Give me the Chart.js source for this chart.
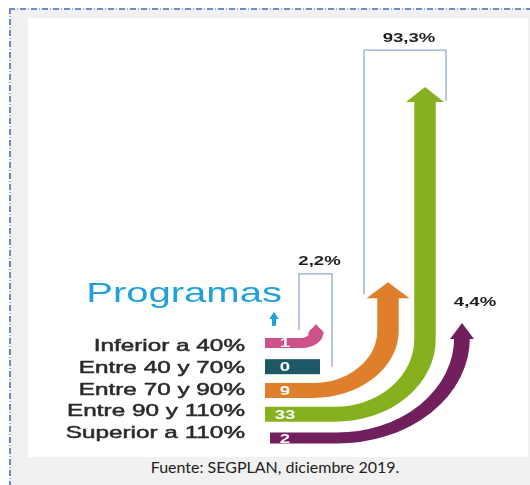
<!DOCTYPE html>
<html lang="es">
<head>
<meta charset="utf-8">
<script src="https://cdn.jsdelivr.net/npm/chart.js@4.4.1/dist/chart.umd.min.js"></script>
<style>
  html, body { margin: 0; padding: 0; background: #fff; }
  body { width: 530px; height: 485px; position: relative; overflow: hidden; }
  .frame {
    position: absolute; left: 9px; top: 8px; width: 530px; height: 485px;
    background: #f1f1f1;
  }
  .frame::before, .frame::after { content: ''; position: absolute; left: 0; top: 0; }
  .frame::before {
    width: 100%; height: 2px;
    background: repeating-linear-gradient(90deg, #6d8cc0 0 6px, transparent 6px 8px, #9fb3d6 8px 9px, transparent 9px 11px);
  }
  .frame::after {
    width: 2px; height: 100%;
    background: repeating-linear-gradient(180deg, #6d8cc0 0 6px, transparent 6px 8px, #9fb3d6 8px 9px, transparent 9px 11px);
  }
  .panel { position: absolute; left: 28px; top: 18px; width: 500px; height: 439px; background: #fff; }
  .caption {
    position: absolute; left: 0; top: 457px; width: 550px; text-align: center;
    font: 16px Lato, "Open Sans", sans-serif; color: #222;
  }
</style>
</head>
<body>
<div class="frame"></div>
<div class="panel"><canvas id="programasChart" width="500" height="439"></canvas></div>
<div class="caption">Fuente: SEGPLAN, diciembre 2019.</div>

<script>
const categories = ['Inferior a 40%', 'Entre 40 y 70%', 'Entre 70 y 90%', 'Entre 90 y 110%', 'Superior a 110%'];
const programCounts = [1, 0, 9, 33, 2];
const shareLabels = ['2,2%', '93,3%', '4,4%'];
const shareGroups = [[0, 1], [2, 3], [4]];
const titleText = 'Programas';

// the original graphic is stretched sideways
const S = 1.43;
const barStart = 237;
const labelSpread = 0.915;
const arrowColors = ['#cd528a', '#1e5866', '#e07f2b', '#86b11f', '#721f5d'];
const arrowShape = [
    { shaft: 288, rx: 14, ry: 10, width: 10, headW: 17, headL: 9 },
    { end: 292, width: 15 },
    { shaft: 360, rx: 75, ry: 60, width: 15, headW: 43, headL: 15 },
    { shaft: 397, rx: 90, ry: 75, width: 15, headW: 38, headL: 14 },
    { shaft: 434, rx: 125, ry: 100, width: 11, headW: 24, headL: 15, start: 242 }
];
const bracketShape = [
    { left: 271, right: 304, rise: 50, textDx: 4 },
    { left: 336, right: 418, rise: 37, textDx: 4 }
];

const arrowPlugin = {
    id: 'arrows',
    afterDraw(chart) {
        const { ctx, scales } = chart;
        const xs = scales.x, ys = scales.y, rs = scales.rows;
        const px = (v) => xs.getPixelForValue(v);
        const X = (v) => px(v) / S;
        const tips = [];
        const midRow = rs.getPixelForValue((categories.length - 1) / 2);

        ctx.save();
        ctx.scale(S, 1);
        ctx.textBaseline = 'middle';

        // title + small arrow
        const row0 = rs.getPixelForValue(0);
        ctx.fillStyle = '#22a0dc';
        ctx.font = '28px "Liberation Sans", Arial, sans-serif';
        ctx.textAlign = 'right';
        ctx.textBaseline = 'alphabetic';
        ctx.fillText(titleText, X(barStart + 17), row0 - 41);
        const ax = X(barStart + 9);
        ctx.beginPath();
        ctx.moveTo(ax - 4 / S * 1.2, row0 - 24);
        ctx.lineTo(ax, row0 - 31);
        ctx.lineTo(ax + 4 / S * 1.2, row0 - 24);
        ctx.closePath();
        ctx.fill();
        ctx.fillRect(ax - 1.4, row0 - 25, 2.8, 8);
        ctx.textBaseline = 'middle';

        categories.forEach((cat, i) => {
            const rowY = rs.getPixelForValue(i);
            const sh = arrowShape[i];
            const x0 = X(sh.start ?? barStart);
            ctx.fillStyle = ctx.strokeStyle = arrowColors[i];

            if (!sh.shaft) {
                ctx.fillRect(x0, rowY - sh.width / 2, X(sh.end) - x0, sh.width);
                tips.push(null);
            } else {
                const tipY = Math.min(ys.getPixelForValue(programCounts[i]), rowY - sh.ry - sh.headL);
                const baseY = tipY + sh.headL;
                const sx = X(sh.shaft);
                const rx = sh.rx / S;
                ctx.lineWidth = sh.width;
                ctx.lineCap = 'butt';
                ctx.lineJoin = 'round';
                ctx.beginPath();
                ctx.moveTo(x0, rowY);
                ctx.lineTo(sx - rx, rowY);
                ctx.ellipse(sx - rx, rowY - sh.ry, rx, sh.ry, 0, Math.PI / 2, 0, true);
                ctx.lineTo(sx, baseY + 0.5);
                ctx.stroke();

                const hw = sh.headW / 2 / S;
                ctx.beginPath();
                ctx.moveTo(sx - hw, baseY + 1);
                ctx.lineTo(sx, tipY);
                ctx.lineTo(sx + hw, baseY + 1);
                ctx.closePath();
                ctx.fill();
                tips.push({ x: px(sh.shaft), tipY, baseY, hw: sh.headW / 2 });
            }

            // count inside the bar
            ctx.fillStyle = '#ffffff';
            ctx.font = 'bold 13px "Liberation Sans", Arial, sans-serif';
            ctx.textAlign = 'center';
            ctx.fillText(String(programCounts[i]), X(barStart + 20), rowY + 1);

            // category label
            const labelY = midRow + (rowY - midRow) * labelSpread - 0.5;
            ctx.fillStyle = ctx.strokeStyle = '#2a2a2a';
            ctx.lineWidth = 0.5;
            ctx.font = '17px "Liberation Sans", Arial, sans-serif';
            ctx.textAlign = 'right';
            ctx.fillText(cat, X(barStart - 20), labelY);
            ctx.strokeText(cat, X(barStart - 20), labelY);
        });

        // shares
        ctx.fillStyle = '#1e1e1e';
        ctx.font = 'bold 13px "Liberation Sans", Arial, sans-serif';
        ctx.textAlign = 'center';
        shareGroups.forEach((grp, g) => {
            const b = bracketShape[g];
            const heads = grp.map(i => tips[i]).filter(Boolean);
            const topTip = Math.min(...heads.map(t => t.tipY));
            if (b) {
                const top = topTip - b.rise;
                ctx.fillText(shareLabels[g], X((b.left + b.right) / 2 + b.textDx), top - 12);
            } else {
                const t = heads[0];
                ctx.fillText(shareLabels[g], (t.x + 13) / S, t.tipY - 21);
            }
        });
        ctx.restore();

        // brackets
        ctx.save();
        ctx.strokeStyle = '#93a9d8';
        ctx.lineWidth = 1.3;
        shareGroups.forEach((grp, g) => {
            const b = bracketShape[g];
            if (!b) return;
            const a = tips[grp[0]];
            const z = tips[grp[1]];
            const top = Math.min(...grp.map(i => tips[i]).filter(Boolean).map(t => t.tipY)) - b.rise;
            const leftBottom = a.baseY - 3;
            const rightBottom = z ? z.baseY : rs.getPixelForValue(grp[1]);
            ctx.beginPath();
            ctx.moveTo(px(b.left), leftBottom);
            ctx.lineTo(px(b.left), top);
            ctx.lineTo(px(b.right), top);
            ctx.lineTo(px(b.right), rightBottom);
            ctx.stroke();
        });
        ctx.restore();
    }
};

new Chart(document.getElementById('programasChart'), {
    type: 'scatter',
    data: { datasets: [] },
    options: {
        responsive: false,
        animation: false,
        layout: { padding: { top: 0, bottom: 7, left: 0, right: 0 } },
        plugins: {
            legend: { display: false },
            tooltip: { enabled: false }
        },
        scales: {
            x: { type: 'linear', display: false, min: 0, max: 500 },
            y: { type: 'linear', display: false, min: 3, max: 41.5, position: 'left', stack: 'left', stackWeight: 313, weight: 1 },
            rows: { type: 'category', axis: 'y', labels: categories, display: false, offset: true, position: 'left', stack: 'left', stackWeight: 119, weight: 0 }
        }
    },
    plugins: [arrowPlugin]
});
</script>
</body>
</html>
